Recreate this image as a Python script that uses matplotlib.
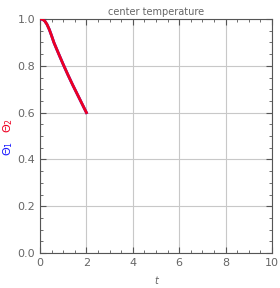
import matplotlib.pyplot as plt
from matplotlib.ticker import MultipleLocator

# center temperature of both solutions (nearly identical)
t = [0.0, 0.1, 0.2, 0.3, 0.4, 0.5, 0.6, 0.8, 1.0, 1.2, 1.4, 1.6, 1.8, 2.0]
theta1 = [1.0, 0.999, 0.992, 0.977, 0.955, 0.928, 0.899, 0.852, 0.806, 0.762, 0.72, 0.68, 0.64, 0.60]
theta2 = [1.0, 0.999, 0.992, 0.977, 0.955, 0.928, 0.899, 0.852, 0.806, 0.762, 0.72, 0.68, 0.64, 0.60]

xticks = [0, 2, 4, 6, 8, 10]
yticks = [0, 0.2, 0.4, 0.6, 0.8, 1.0]

grey = '#666666'
fig = plt.figure(figsize=(2.8, 2.88), dpi=100)
ax = fig.add_axes([0.143, 0.1215, 0.828, 0.8125])

ax.plot(t, theta1, color='#1a1aff', lw=2.0, zorder=3)
ax.plot(t, theta2, color='#ee0022', lw=2.0, zorder=4)

ax.set_xlim(0, 10)
ax.set_ylim(0, 1)
ax.set_xticks(xticks)
ax.set_xticklabels([str(v) for v in xticks])
ax.set_yticks(yticks)
ax.set_yticklabels(['%.1f' % v for v in yticks])
ax.xaxis.set_minor_locator(MultipleLocator(0.5))
ax.yaxis.set_minor_locator(MultipleLocator(0.05))
ax.grid(True, which='major', color='#c8c8c8', lw=0.8)
ax.tick_params(which='both', direction='in', top=True, right=True,
               colors='#555555', labelcolor=grey, labelsize=8)
ax.tick_params(which='major', length=4)
ax.tick_params(which='minor', length=2)
for s in ax.spines.values():
    s.set_color('#555555')

ax.set_title('center temperature', fontsize=7, color=grey, pad=3)
ax.set_xlabel('t', fontsize=7, color=grey, style='italic', labelpad=6)
fig.text(0.03, 0.565, r'$\Theta_2$', color='#ee0022', fontsize=8, rotation=90, ha='center', va='center')
fig.text(0.03, 0.485, r'$\Theta_1$', color='#1a1aff', fontsize=8, rotation=90, ha='center', va='center')

fig.savefig('out.png', dpi=100)
